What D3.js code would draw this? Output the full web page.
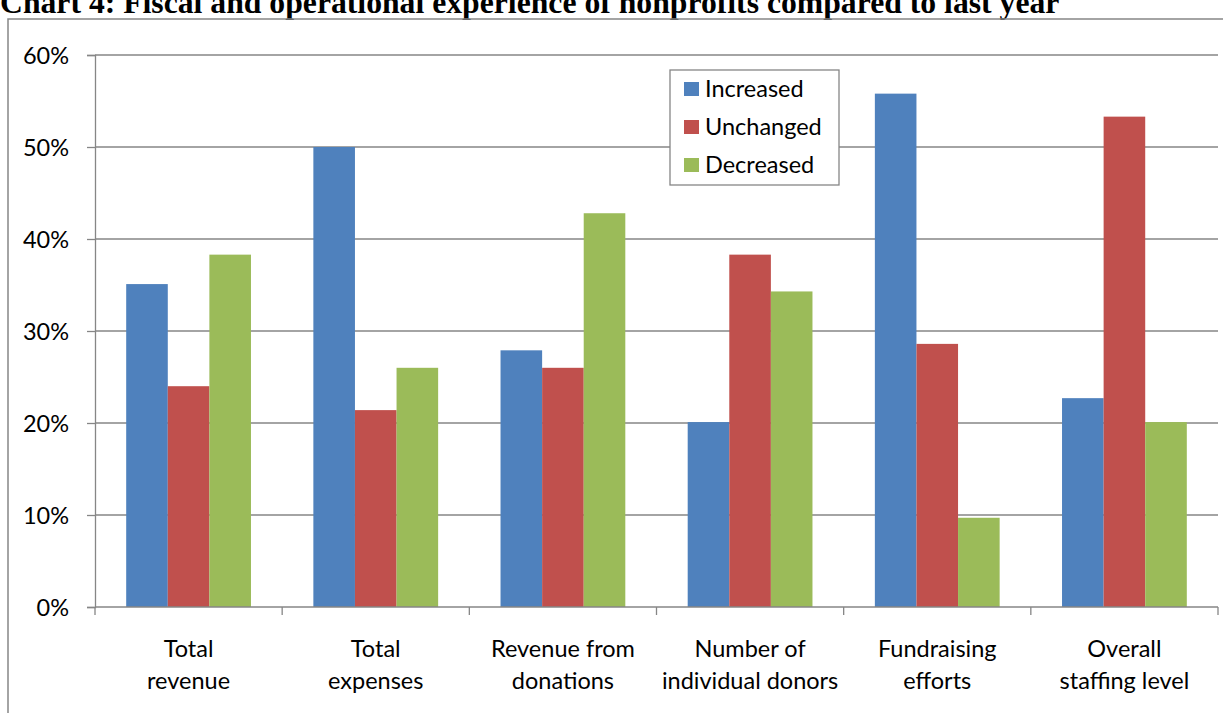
<!DOCTYPE html>
<html>
<head>
<meta charset="utf-8">
<script src="https://cdn.jsdelivr.net/npm/d3@7"></script>
<style>
	body{margin:0;background:#fff;overflow:hidden;}
	svg{display:block;}
	text{font-family:Lato, "Open Sans", sans-serif;fill:#000;}
	text.title{font-family:"Liberation Serif", "Times New Roman", serif;font-weight:bold;}
</style>
</head>
<body>
<div id="chart"></div>
<script>
var categories=[["Total","revenue"],["Total","expenses"],["Revenue from","donations"],
	["Number of","individual donors"],["Fundraising","efforts"],["Overall","staffing level"]];
var seriesNames=["Increased","Unchanged","Decreased"];
var seriesColors=["#4f81bd","#c0504d","#9bbb59"];
var increased=[35.1,50.0,27.9,20.1,55.8,22.7];
var unchanged=[24.0,21.4,26.0,38.3,28.6,53.3];
var decreased=[38.3,26.0,42.8,34.3,9.7,20.1];
var yTicks=[0,10,20,30,40,50,60];
var titleText="Chart 4: Fiscal and operational experience of nonprofits compared to last year";

(function(){
	var W=1223, H=713;
	var pLeft=95, pRight=1218, pTop=55, pBottom=607;
	var gridColor="#868686", fontSize=23.5;

	var svg=d3.select("#chart").append("svg").attr("width",W).attr("height",H);

	// title, top part cut off by the picture edge
	var title=svg.append("text").attr("class","title")
		.attr("x",0).attr("y",13).attr("font-size",100).text(titleText);
	var tw=title.node().getComputedTextLength();
	title.attr("font-size",100*1060/tw);

	// chart frame
	svg.append("rect").attr("x",8).attr("y",19).attr("width",W).attr("height",H)
		.attr("fill","none").attr("stroke",gridColor).attr("stroke-width",1.5);

	var series=[increased,unchanged,decreased];
	var idx=d3.range(categories.length);

	var x0=d3.scaleBand().domain(idx).range([pLeft,pRight]).paddingInner(0).paddingOuter(0);
	var gap=x0.bandwidth()*1.5/4.5;
	var x1=d3.scaleBand().domain(d3.range(seriesNames.length)).range([gap/2,x0.bandwidth()-gap/2]);
	var y=d3.scaleLinear().domain([0,60]).range([pBottom,pTop]);

	// gridlines
	svg.append("g").selectAll("line").data(yTicks.slice(1)).enter().append("line")
		.attr("x1",pLeft).attr("x2",pRight)
		.attr("y1",function(d){return y(d);}).attr("y2",function(d){return y(d);})
		.attr("stroke",gridColor).attr("stroke-width",1.3);

	// bars
	svg.append("g").selectAll("g").data(idx).enter().append("g")
		.attr("transform",function(i){return "translate("+x0(i)+",0)";})
		.selectAll("rect").data(function(i){
			return series.map(function(s,k){return {k:k,v:s[i]};});
		}).enter().append("rect")
		.attr("x",function(d){return x1(d.k);})
		.attr("width",x1.bandwidth())
		.attr("y",function(d){return y(d.v);})
		.attr("height",function(d){return pBottom-y(d.v);})
		.attr("fill",function(d){return seriesColors[d.k];});

	// y axis
	var yAxis=svg.append("g").attr("transform","translate("+pLeft+",0)")
		.call(d3.axisLeft(y).tickValues(yTicks).tickSize(8).tickPadding(18)
			.tickFormat(function(d){return d+"%";}));
	yAxis.attr("font-family",null).attr("font-size",null);
	yAxis.select(".domain").attr("stroke",gridColor).attr("stroke-width",1.3);
	yAxis.selectAll(".tick line").attr("stroke",gridColor).attr("stroke-width",1.3);
	yAxis.selectAll(".tick text").attr("font-size",fontSize).attr("fill","#000").attr("dy","0.35em");

	// x axis line and boundary ticks
	var xg=svg.append("g");
	xg.append("line").attr("x1",pLeft).attr("x2",pRight).attr("y1",pBottom).attr("y2",pBottom)
		.attr("stroke",gridColor).attr("stroke-width",1.3);
	xg.selectAll("line.bt").data(d3.range(categories.length+1)).enter().append("line")
		.attr("class","bt")
		.attr("x1",function(i){return pLeft+i*x0.bandwidth();})
		.attr("x2",function(i){return pLeft+i*x0.bandwidth();})
		.attr("y1",pBottom).attr("y2",pBottom+8)
		.attr("stroke",gridColor).attr("stroke-width",1.3);

	// category labels, two lines each
	var lab=xg.selectAll("text").data(idx).enter().append("text")
		.attr("text-anchor","middle").attr("font-size",fontSize)
		.attr("x",function(i){return x0(i)+x0.bandwidth()/2;});
	lab.selectAll("tspan").data(function(i){return categories[i];}).enter().append("tspan")
		.attr("x",function(){return d3.select(this.parentNode).attr("x");})
		.attr("y",function(d,j){return 657+j*32;})
		.text(function(d){return d;});

	// legend
	var lg=svg.append("g").attr("transform","translate(670,70)");
	lg.append("rect").attr("width",169).attr("height",115)
		.attr("fill","#fff").attr("stroke",gridColor).attr("stroke-width",1.3);
	var item=lg.selectAll("g").data(seriesNames).enter().append("g")
		.attr("transform",function(d,i){return "translate(0,"+(19+i*38)+")";});
	item.append("rect").attr("x",14).attr("y",-7).attr("width",15).attr("height",14)
		.attr("fill",function(d,i){return seriesColors[i];});
	item.append("text").attr("x",35).attr("dy","0.35em").attr("font-size",fontSize)
		.text(function(d){return d;});
})();
</script>
</body>
</html>
